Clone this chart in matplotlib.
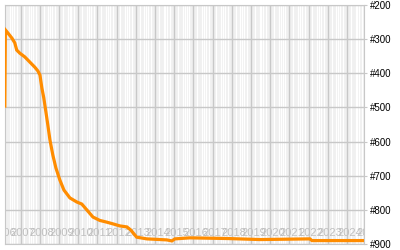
import numpy as np
import matplotlib.pyplot as plt
import matplotlib.transforms as mtransforms

# rank history (decimal year, rank)
years = [2006.18, 2006.21, 2006.34, 2006.55, 2006.70, 2006.80, 2006.96, 2007.22,
         2007.48, 2007.74, 2007.90, 2008.01, 2008.11, 2008.21, 2008.32, 2008.42,
         2008.53, 2008.68, 2008.84, 2009.05, 2009.26, 2009.57, 2009.93, 2010.19,
         2010.45, 2010.77, 2011.13, 2011.49, 2011.81, 2012.17, 2012.54, 2012.74,
         2013.05, 2013.58, 2014.62, 2014.88, 2015.04, 2015.82, 2017.80, 2019.47,
         2022.07, 2022.18, 2024.88]
ranks = [496, 273, 282, 297, 311, 332, 341, 352,
         367, 382, 393, 405, 443, 472, 513, 551,
         595, 639, 677, 713, 742, 765, 777, 783,
         800, 821, 831, 836, 841, 847, 850, 859,
         880, 885, 888, 891, 885, 882, 884, 887,
         885, 890, 890]

year_labels = [str(y) for y in range(2006, 2026)]
rank_ticks = [200, 300, 400, 500, 600, 700, 800, 900]

fig = plt.figure(figsize=(4, 2.5), dpi=100)
ax = fig.add_axes([5 / 400, 6 / 250, 359 / 400, 239 / 250])
ax.set_facecolor('#f0f0f0')

x0, x1 = 2006.19, 2024.89
ax.set_xlim(x0, x1)
ax.set_ylim(900, 200)

# white minor stripes
for y in range(2006, 2025):
    for f in [0.2, 0.45, 0.55, 0.65, 0.8]:
        if x0 < y + f < x1:
            ax.axvline(y + f, color='white', lw=0.9, zorder=0)

# major vertical gridlines at years
for y in range(2007, 2025):
    ax.axvline(y, color='#c8c8c8', lw=1.0, zorder=1)
for r in rank_ticks:
    ax.axhline(r, color='#c8c8c8', lw=1.0, zorder=1)

# year labels inside plot
trans = mtransforms.blended_transform_factory(ax.transData, ax.transAxes)
for i, lab in enumerate(year_labels):
    ax.text(2006 + i + 0.13, 0.045, lab, transform=trans, ha='center', va='center',
            fontsize=8, color='#c0c0c0', family='Liberation Sans', clip_on=True,
            zorder=2)

ax.plot(years, ranks, color='#ff8c00', lw=2.3, zorder=3, solid_joinstyle='miter')

ax.set_xticks([])
ax.yaxis.tick_right()
ax.set_yticks(rank_ticks)
ax.set_yticklabels(['#' + str(r) for r in rank_ticks], fontsize=7,
                   family='Liberation Sans')
ax.tick_params(axis='y', length=2, color='#c8c8c8', pad=2)
for s in ax.spines.values():
    s.set_color('#c8c8c8')

fig.savefig('out.png', dpi=100)
